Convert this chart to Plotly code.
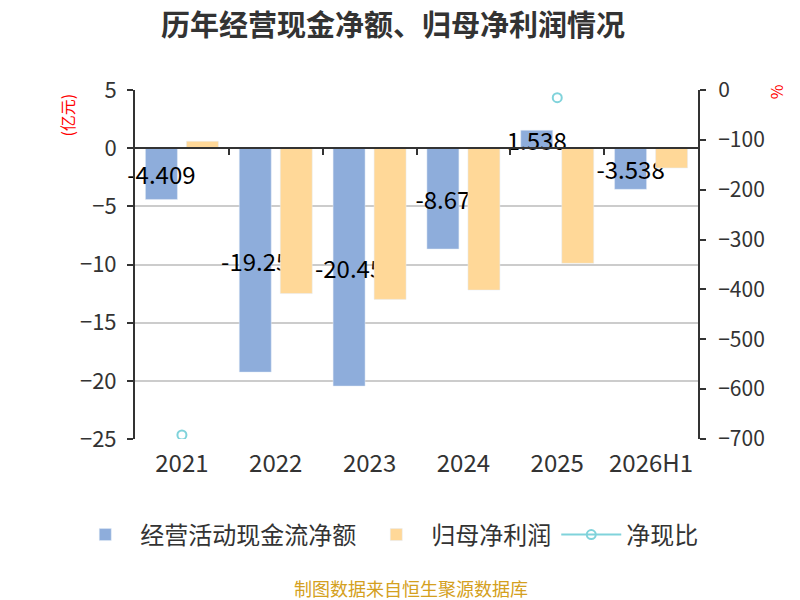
import plotly.graph_objects as go

# data
years = ["2021", "2022", "2023", "2024", "2025", "2026H1"]
cash_flow = [-4.409, -19.25, -20.45, -8.67, 1.538, -3.538]   # 经营活动现金流净额 (亿元)
net_profit = [0.6, -12.5, -13.0, -12.2, -9.9, -1.7]           # 归母净利润 (亿元)
cash_ratio = [-692, None, None, None, -15.5, None]             # 净现比 (%)
cash_labels = ["-4.409", "-19.25", "-20.45", "-8.67", "1.538", "-3.538"]

FONT = "Noto Sans CJK SC"
TXT = "#333333"

fig = go.Figure()

fig.add_trace(go.Bar(
    x=years, y=cash_flow, name="经营活动现金流净额",
    marker=dict(color="#8EADDB"),
    text=cash_labels, textposition="inside", insidetextanchor="middle",
    constraintext="none", textangle=0, cliponaxis=False,
    insidetextfont=dict(size=24, color="#000000", family=FONT),
))
fig.add_trace(go.Bar(
    x=years, y=net_profit, name="归母净利润",
    marker=dict(color="#FFD898"),
))
fig.add_trace(go.Scatter(
    x=years, y=cash_ratio, name="净现比", yaxis="y2",
    mode="lines+markers",
    line=dict(color="#80D3DB", width=2),
    marker=dict(symbol="circle-open", size=9, color="#80D3DB", line=dict(width=2)),
))
# invisible trace so the zero-line axis gets drawn
fig.add_trace(go.Scatter(
    x=[0], y=[0], xaxis="x2", mode="markers",
    marker=dict(opacity=0), showlegend=False, hoverinfo="skip",
))

# page body has an 8px margin, so the figure is 792x592
fig.update_layout(
    width=792, height=592,
    margin=dict(l=127, r=102, t=82, b=161, autoexpand=False),
    paper_bgcolor="white", plot_bgcolor="white",
    font=dict(family=FONT, color=TXT, size=21),
    title=dict(text="<b>历年经营现金净额、归母净利润情况</b>",
               x=0.486, xanchor="center", y=0.9704, yanchor="middle",
               font=dict(size=29, color=TXT, family=FONT)),
    barmode="group", bargap=0.126, bargroupgap=0.22,
    showlegend=True,
    # x<0 with left anchor lets the horizontal legend use the left margin too
    legend=dict(orientation="h", x=-0.115, xanchor="left", y=-0.275, yanchor="middle",
                font=dict(size=24, color=TXT), itemwidth=60),
    xaxis=dict(type="category", showline=False, ticks="", showgrid=False,
               ticklabelstandoff=8, tickfont=dict(size=24, color=TXT)),
    xaxis2=dict(overlaying="x", anchor="free", position=0.8333, side="bottom",
                range=[-0.5, 5.5], showline=True, linecolor="#333333", linewidth=2,
                ticks="outside", ticklen=6, tickwidth=2, tickcolor="#333333",
                tickvals=[0.5, 1.5, 2.5, 3.5, 4.5], showticklabels=False,
                showgrid=False, zeroline=False),
    yaxis=dict(range=[-25, 5], dtick=5, showline=True, linecolor="#333333", linewidth=2,
               ticks="outside", ticklen=6, tickwidth=2, tickcolor="#333333",
               gridcolor="#CCCCCC", gridwidth=2, zeroline=False,
               ticklabelstandoff=6, tickfont=dict(size=22, color=TXT)),
    yaxis2=dict(range=[-700, 0], dtick=100, overlaying="y", side="right",
                showline=True, linecolor="#333333", linewidth=2,
                ticks="outside", ticklen=6, tickwidth=2, tickcolor="#333333",
                showgrid=False, zeroline=False,
                ticklabelstandoff=8, tickfont=dict(size=21, color=TXT)),
)

fig.add_annotation(text="(亿元)", xref="paper", yref="paper", x=-0.12, y=0.928,
                   xanchor="center", yanchor="middle",
                   textangle=-90, showarrow=False, font=dict(size=16, color="#FF0000"))
fig.add_annotation(text="%", xref="paper", yref="paper", x=1.139, y=0.994,
                   xanchor="center", yanchor="middle",
                   textangle=-90, showarrow=False, font=dict(size=16, color="#FF0000"))
fig.add_annotation(text="制图数据来自恒生聚源数据库", xref="paper", yref="paper",
                   x=0.49, y=-0.427, xanchor="center", yanchor="middle", showarrow=False,
                   font=dict(size=18, color="#D4A020"))

fig.write_html("out.html")
